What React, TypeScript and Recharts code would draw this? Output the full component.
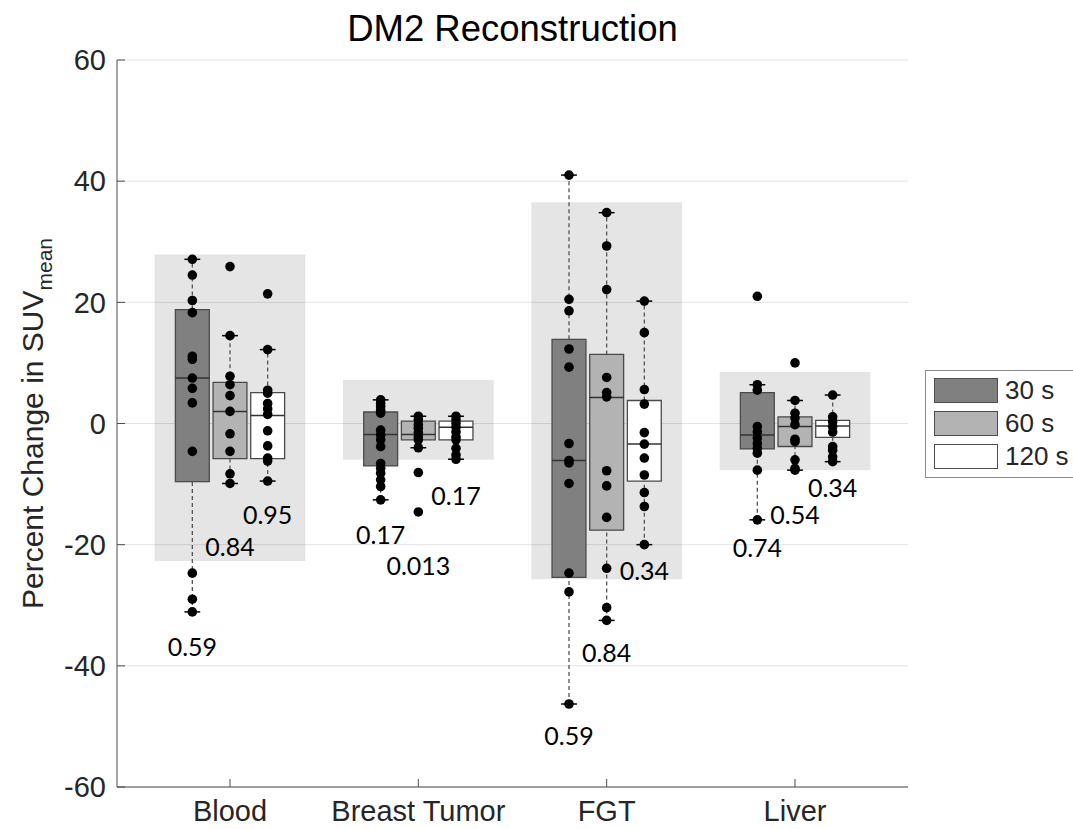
import {
  ComposedChart,
  XAxis,
  YAxis,
  CartesianGrid,
  Scatter,
  ReferenceArea,
  ReferenceLine,
  Legend,
  Label,
} from 'recharts';

const CATEGORIES = ['Blood', 'Breast Tumor', 'FGT', 'Liver'];
const SERIES = ['30 s', '60 s', '120 s'];
const X_TICKS = [1, 2, 3, 4];
const Y_TICKS = [-60, -40, -20, 0, 20, 40, 60];

// percent change per subject, one list per category
const POINTS_30 = [
  [27.1, 24.5, 20.3, 18.3, 11.1, 10.6, 7.5, 5.8, 3.4, -4.6, -24.7, -29.0, -31.1],
  [3.9, 3.3, 2.8, 2.2, 1.7, -1.1, -1.9, -2.7, -3.8, -6.6, -7.4, -8.2, -9.3, -10.4, -12.6],
  [41.0, 20.5, 18.6, 12.3, 9.3, -3.3, -6.1, -6.5, -9.9, -24.7, -27.8, -46.3],
  [21.0, 6.4, 5.5, -0.5, -1.4, -2.4, -3.3, -4.1, -4.9, -7.7, -15.9],
];
const POINTS_60 = [
  [25.9, 14.5, 7.8, 6.4, 4.6, 2.0, -1.7, -4.6, -8.3, -9.9],
  [1.2, 0.6, -0.2, -0.8, -1.5, -2.2, -2.7, -4.0, -8.1, -14.6],
  [34.8, 29.3, 22.1, 7.6, 5.1, 4.4, -7.8, -10.3, -15.5, -23.9, -30.4, -32.5],
  [10.0, 3.8, 1.7, 0.9, -0.2, -2.6, -3.0, -6.0, -7.4, -7.7],
];
const POINTS_120 = [
  [21.4, 12.2, 5.5, 5.0, 3.3, 2.4, 1.5, -1.2, -3.7, -5.7, -6.2, -9.5],
  [1.2, 0.6, 0.0, -0.6, -1.4, -2.2, -2.7, -4.1, -5.2, -5.9],
  [20.2, 15.0, 5.6, 3.2, -1.5, -3.4, -5.7, -8.5, -11.4, -13.7, -20.0],
  [4.7, 1.1, 0.3, -0.5, -1.4, -3.8, -4.4, -5.5, -6.3],
];

// [lower whisker, q1, median, q3, upper whisker]
const BOX_30 = [
  [-31.1, -9.6, 7.5, 18.8, 27.1],
  [-12.6, -7.0, -1.8, 1.9, 3.9],
  [-46.3, -25.4, -6.1, 13.9, 41.0],
  [-15.9, -4.2, -1.9, 5.1, 6.4],
];
const BOX_60 = [
  [-9.9, -5.8, 2.0, 6.8, 14.5],
  [-4.0, -2.7, -1.8, 0.4, 1.2],
  [-32.5, -17.6, 4.3, 11.4, 34.8],
  [-7.7, -3.8, -0.5, 1.1, 3.8],
];
const BOX_120 = [
  [-9.5, -5.8, 1.3, 5.1, 12.2],
  [-5.9, -2.7, -0.6, 0.4, 1.2],
  [-20.0, -9.5, -3.4, 3.8, 20.2],
  [-6.3, -2.3, -0.4, 0.5, 4.7],
];

// shaded range behind each category
const BAND_LOW = [-22.7, -6.0, -25.7, -7.7];
const BAND_HIGH = [27.9, 7.2, 36.5, 8.5];

// p-values and the height they are written at
const P_30 = ['0.59', '0.17', '0.59', '0.74'];
const P_60 = ['0.84', '0.013', '0.84', '0.54'];
const P_120 = ['0.95', '0.17', '0.34', '0.34'];
const P_30_AT = [-36.7, -18.2, -51.4, -20.4];
const P_60_AT = [-20.2, -23.3, -37.7, -14.9];
const P_120_AT = [-14.9, -11.8, -24.2, -10.5];

const FILLS = ['#808080', '#b3b3b3', '#ffffff'];
const OFFSETS = [-0.2, 0, 0.2];
const HALF_BOX = 0.09;
const HALF_CAP = 0.042;
const FONT = 'Liberation Sans, Arial, sans-serif';
const AXIS = { stroke: '#4d4d4d', strokeWidth: 1 };

const POINTS = [POINTS_30, POINTS_60, POINTS_120];
const BOXES = [BOX_30, BOX_60, BOX_120];
const P_LABELS = [P_30, P_60, P_120];
const P_AT = [P_30_AT, P_60_AT, P_120_AT];

const boxes = SERIES.flatMap((_, s) =>
  CATEGORIES.map((_, c) => ({ s, x: c + 1 + OFFSETS[s], b: BOXES[s][c] })),
);
const dotData = SERIES.map((_, s) =>
  POINTS[s].flatMap((vals, c) => vals.map((y) => ({ x: c + 1 + OFFSETS[s], y }))),
);
const labelData = SERIES.flatMap((_, s) =>
  P_LABELS[s].map((label, c) => ({ x: c + 1 + OFFSETS[s], y: P_AT[s][c], label })),
);

const Dot = (p: any) => <circle cx={p.cx} cy={p.cy} r={4.8} fill="#000" />;

const PText = (p: any) => (
  <text
    x={p.cx}
    y={p.cy}
    textAnchor="middle"
    dominantBaseline="central"
    fontFamily="Lato, sans-serif"
    fontSize={25}
    fill="#000"
  >
    {p.payload.label}
  </text>
);

function YLabel(props: any) {
  const vb = props.viewBox || { x: 0, y: 60, height: 727 };
  const x = vb.x + 43;
  const y = vb.y + vb.height / 2;
  return (
    <text
      x={x}
      y={y}
      transform={`rotate(-90 ${x} ${y})`}
      textAnchor="middle"
      fontFamily={FONT}
      fontSize={30}
      fill="#262626"
    >
      Percent Change in SUV
      <tspan fontSize={21} dy={9}>
        mean
      </tspan>
    </text>
  );
}

function LegendBox() {
  return (
    <div
      style={{
        background: '#fff',
        border: '1px solid #8c8c8c',
        borderRight: 'none',
        padding: '3px 0 4px 8px',
        boxSizing: 'border-box',
        width: 148,
      }}
    >
      {SERIES.map((name, i) => (
        <div key={name} style={{ display: 'flex', alignItems: 'center', height: 33 }}>
          <span
            style={{
              display: 'inline-block',
              width: 62,
              height: 23,
              background: FILLS[i],
              border: '1px solid #4d4d4d',
            }}
          />
          <span style={{ marginLeft: 7, fontSize: 26, fontFamily: FONT, color: '#262626' }}>
            {name}
          </span>
        </div>
      ))}
    </div>
  );
}

export default function App() {
  return (
    <div style={{ position: 'absolute', left: 0, top: 0, width: 1073, height: 829, background: '#fff' }}>
      <div
        style={{
          position: 'absolute',
          left: 117,
          top: -1,
          width: 791,
          textAlign: 'center',
          fontFamily: FONT,
          fontSize: 36.5,
          lineHeight: '60px',
          color: '#000',
          zIndex: 1,
        }}
      >
        DM2 Reconstruction
      </div>
      <ComposedChart width={1073} height={829} margin={{ top: 60, right: 165, bottom: 0, left: 0 }}>
        <CartesianGrid vertical={false} stroke="#e3e3e3" />
        <XAxis
          dataKey="x"
          type="number"
          domain={[0.4, 4.6]}
          ticks={X_TICKS}
          interval={0}
          allowDataOverflow
          tickFormatter={(v) => CATEGORIES[v - 1]}
          height={42}
          tickSize={-8}
          tickMargin={21}
          axisLine={AXIS}
          tickLine={AXIS}
          tick={{ fill: '#262626', fontSize: 29, fontFamily: FONT }}
        />
        <XAxis
          xAxisId="top"
          orientation="top"
          type="number"
          domain={[0.4, 4.6]}
          ticks={X_TICKS}
          interval={0}
          allowDataOverflow
          height={0}
          tickSize={-8}
          tick={false}
          axisLine={AXIS}
          tickLine={AXIS}
        />
        <YAxis
          dataKey="y"
          type="number"
          domain={[-60, 60]}
          ticks={Y_TICKS}
          interval={0}
          allowDataOverflow
          width={117}
          tickSize={-8}
          tickMargin={19}
          axisLine={AXIS}
          tickLine={AXIS}
          tick={{ fill: '#262626', fontSize: 29, fontFamily: FONT }}
        >
          <Label content={YLabel} />
        </YAxis>
        <YAxis
          yAxisId="right"
          orientation="right"
          type="number"
          domain={[-60, 60]}
          ticks={Y_TICKS}
          interval={0}
          allowDataOverflow
          width={0}
          tickSize={-8}
          tick={false}
          axisLine={AXIS}
          tickLine={AXIS}
        />

        {CATEGORIES.map((name, c) => (
          <ReferenceArea
            key={`band-${name}`}
            x1={c + 1 - 0.4}
            x2={c + 1 + 0.4}
            y1={BAND_LOW[c]}
            y2={BAND_HIGH[c]}
            fill="#000"
            fillOpacity={0.1}
            stroke="none"
          />
        ))}

        {boxes.map((g, i) => (
          <ReferenceArea
            key={`box-${i}`}
            x1={g.x - HALF_BOX}
            x2={g.x + HALF_BOX}
            y1={g.b[1]}
            y2={g.b[3]}
            fill={FILLS[g.s]}
            fillOpacity={1}
            stroke="#4a4a4a"
            strokeWidth={1.3}
          />
        ))}

        {boxes.map((g, i) => (
          <ReferenceLine
            key={`wlo-${i}`}
            segment={[
              { x: g.x, y: g.b[0] },
              { x: g.x, y: g.b[1] },
            ]}
            stroke="#555"
            strokeWidth={1.3}
            strokeDasharray="4 3"
          />
        ))}
        {boxes.map((g, i) => (
          <ReferenceLine
            key={`whi-${i}`}
            segment={[
              { x: g.x, y: g.b[3] },
              { x: g.x, y: g.b[4] },
            ]}
            stroke="#555"
            strokeWidth={1.3}
            strokeDasharray="4 3"
          />
        ))}
        {boxes.map((g, i) => (
          <ReferenceLine
            key={`med-${i}`}
            segment={[
              { x: g.x - HALF_BOX, y: g.b[2] },
              { x: g.x + HALF_BOX, y: g.b[2] },
            ]}
            stroke="#333"
            strokeWidth={1.5}
          />
        ))}
        {boxes.map((g, i) => (
          <ReferenceLine
            key={`clo-${i}`}
            segment={[
              { x: g.x - HALF_CAP, y: g.b[0] },
              { x: g.x + HALF_CAP, y: g.b[0] },
            ]}
            stroke="#000"
            strokeWidth={1.5}
          />
        ))}
        {boxes.map((g, i) => (
          <ReferenceLine
            key={`chi-${i}`}
            segment={[
              { x: g.x - HALF_CAP, y: g.b[4] },
              { x: g.x + HALF_CAP, y: g.b[4] },
            ]}
            stroke="#000"
            strokeWidth={1.5}
          />
        ))}

        {SERIES.map((name, s) => (
          <Scatter
            key={`dots-${name}`}
            name={name}
            data={dotData[s]}
            shape={Dot}
            isAnimationActive={false}
          />
        ))}
        <Scatter name="p" data={labelData} shape={PText} isAnimationActive={false} />

        <Legend
          layout="vertical"
          align="center"
          verticalAlign="middle"
          content={LegendBox}
          wrapperStyle={{ position: 'absolute', left: 925, top: 370, width: 148 }}
        />
      </ComposedChart>
    </div>
  );
}
